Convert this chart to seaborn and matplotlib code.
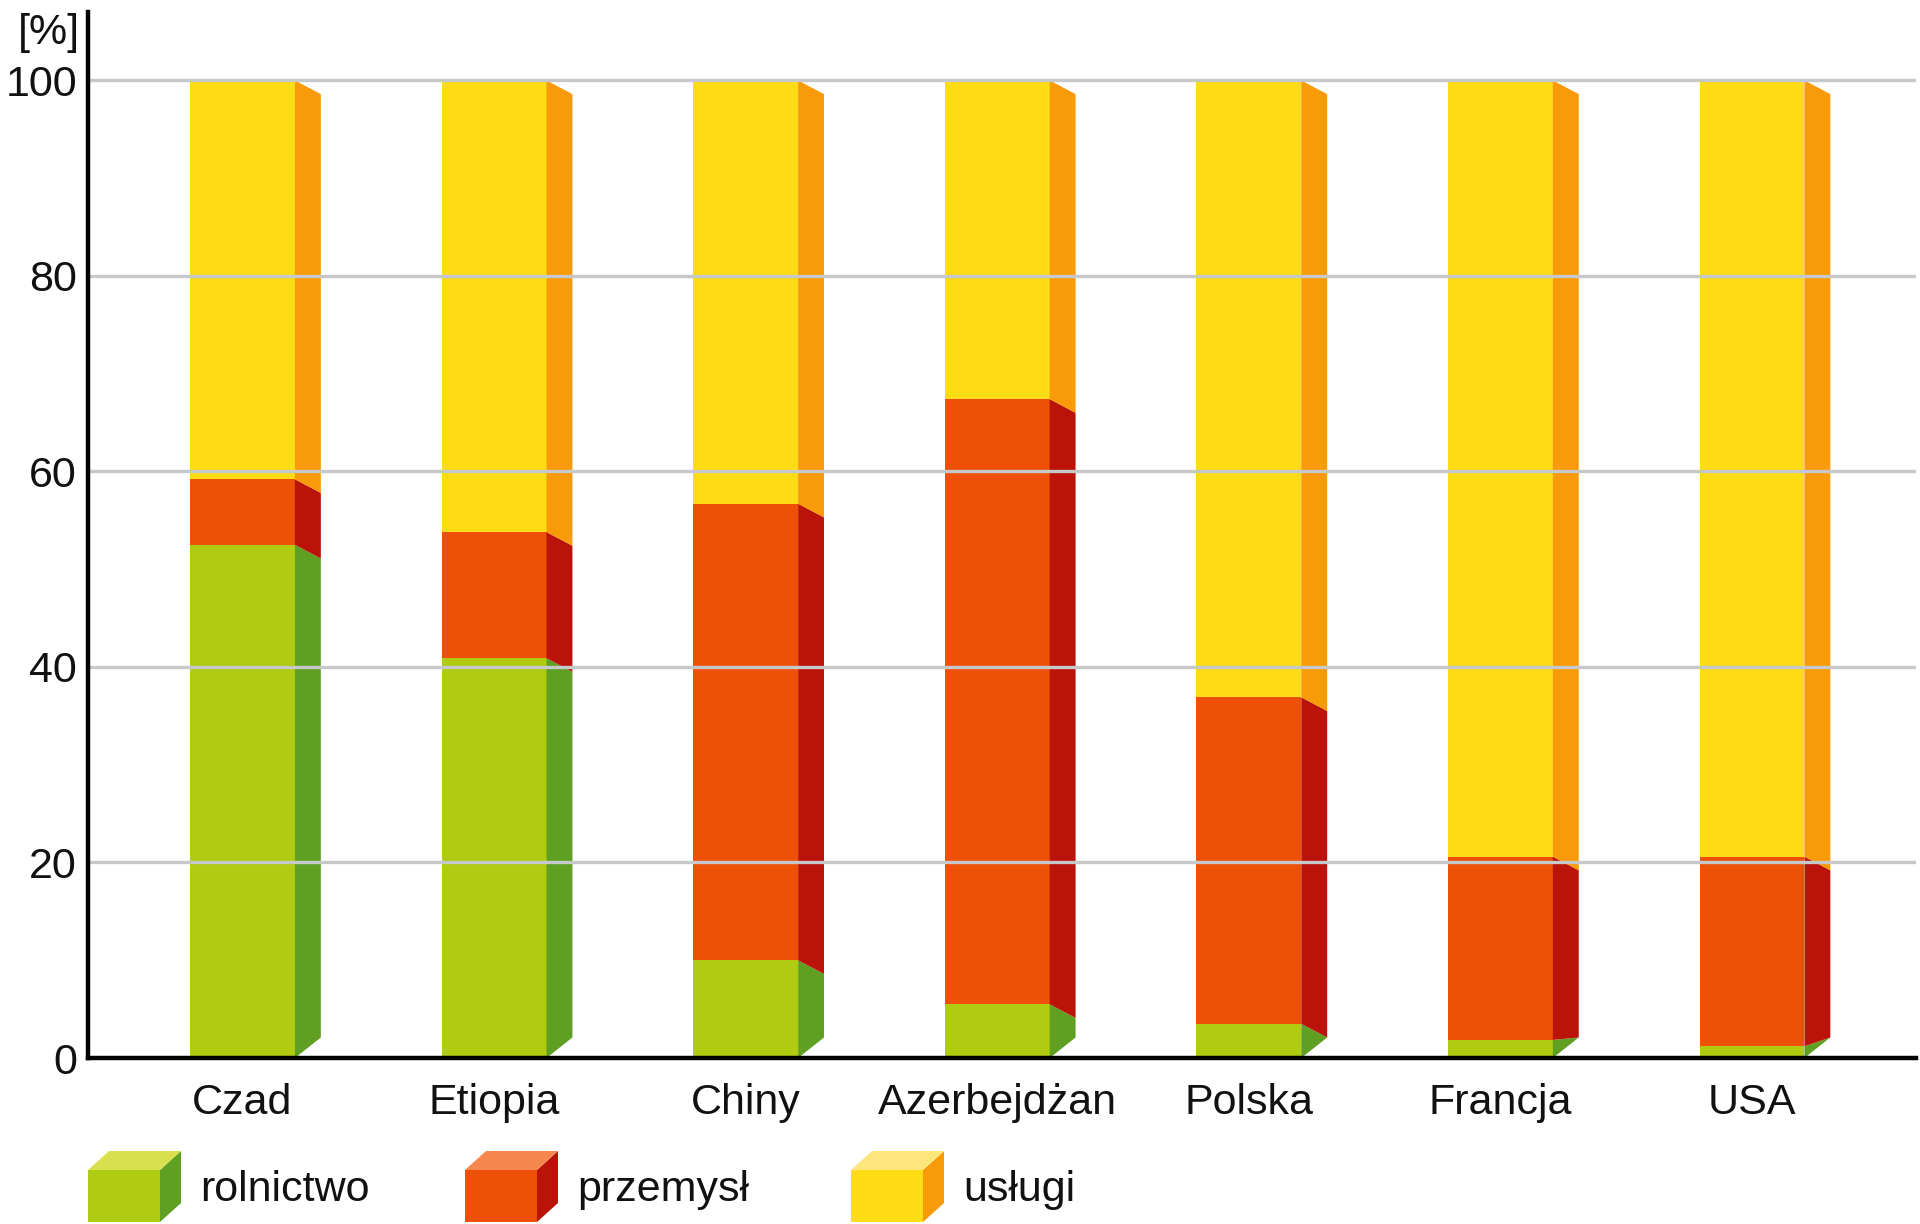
import matplotlib
matplotlib.use('Agg')
import matplotlib.pyplot as plt
from matplotlib.patches import Polygon, Rectangle
import pandas as pd
import seaborn as sns

countries = ['Czad', 'Etiopia', 'Chiny', 'Azerbejdżan', 'Polska', 'Francja', 'USA']
rolnictwo = [52.5, 40.9, 10.0, 5.5, 3.5, 1.85, 1.2]
przemysl = [6.7, 12.9, 46.7, 61.9, 33.4, 18.75, 19.4]
uslugi = [40.8, 46.2, 43.3, 32.6, 63.1, 79.4, 79.4]
sectors = ['rolnictwo', 'przemysł', 'usługi']
yticks = [0, 20, 40, 60, 80, 100]

front_col = ['#afcb12', '#ee5008', '#fddb15']
side_col = ['#5f9f22', '#bb1209', '#f99a08']
top_col = ['#d8e04e', '#f6884f', '#fde67b']

sns.set_style('white')
plt.rcParams['font.family'] = ['Liberation Sans Narrow', 'Liberation Sans', 'DejaVu Sans']

W, H = 1920, 1224
fig = plt.figure(figsize=(W / 100, H / 100), dpi=100)
ax = fig.add_axes([88 / W, 166 / H, (1916 - 88) / W, (1058 - 12) / H])

# long table with lower / upper edge of each stacked segment
rows = []
for i, c in enumerate(countries):
    lo = 0
    for s, vals in zip(sectors, [rolnictwo, przemysl, uslugi]):
        rows.append({'kraj': c, 'sektor': s, 'dol': lo, 'gora': lo + vals[i]})
        lo += vals[i]
df = pd.DataFrame(rows)

bar_w = 0.417
depth = 0.103   # side face width in category units
drop = 1.4      # slant of side top edge (data units)
rise = 2.1      # slant of side bottom edge at the base

# front faces: draw cumulative heights from top segment down
for k in [2, 1, 0]:
    sub = df[df['sektor'] == sectors[k]]
    sns.barplot(data=sub, x='kraj', y='gora', order=countries, color=front_col[k],
                saturation=1, width=bar_w, ax=ax, linewidth=0, zorder=1)

# side faces, positions taken from the drawn bars
xpos = {}
for p in ax.patches[:len(countries)]:
    xc = p.get_x() + p.get_width() / 2
    xpos[countries[int(round(xc))]] = p.get_x() + p.get_width()

for k in range(3):
    sub = df[df['sektor'] == sectors[k]]
    for _, r in sub.iterrows():
        x1 = xpos[r['kraj']]
        b, t = r['dol'], r['gora']
        b_r = rise if b == 0 else max(b - drop, rise)
        t_r = max(t - drop, rise)
        poly = Polygon([(x1, t), (x1 + depth, t_r), (x1 + depth, b_r), (x1, b)],
                       closed=True, facecolor=side_col[k], edgecolor='none', zorder=1)
        ax.add_patch(poly)

for y in yticks[1:]:
    ax.axhline(y, color='#c5c9c9', linewidth=2.4, zorder=3)

ax.set_xlim(-0.614, 6.652)
ax.set_ylim(0, 107)
ax.set_yticks(yticks)
ax.set_xlabel('')
ax.set_ylabel('')
ax.tick_params(axis='both', length=0, labelsize=31, colors='#111111')
ax.tick_params(axis='y', pad=8)
ax.tick_params(axis='x', pad=18)
for s in ['top', 'right']:
    ax.spines[s].set_visible(False)
for s in ['left', 'bottom']:
    ax.spines[s].set_color('black')
    ax.spines[s].set_linewidth(3.2)
    ax.spines[s].set_zorder(4)

fig.text(49 / W, 1 - 33 / H, '[%]', fontsize=31, ha='center', va='center', color='#111111')


# legend drawn as small cubes in pixel coordinates
def fx(x):
    return x / W


def fy(y):
    return 1 - y / H


leg_x = [88, 465, 851]
for k in range(3):
    x0 = leg_x[k]
    fw, sw = 72, 21
    ytop, yfront, ybot = 1151, 1170, 1222
    fig.patches.append(Rectangle((fx(x0), fy(ybot)), fw / W, (ybot - yfront) / H,
                                 transform=fig.transFigure, facecolor=front_col[k], edgecolor='none'))
    fig.patches.append(Polygon([(fx(x0 + fw), fy(yfront)), (fx(x0 + fw + sw), fy(ytop)),
                                (fx(x0 + fw + sw), fy(ybot - 19)), (fx(x0 + fw), fy(ybot))],
                               closed=True, transform=fig.transFigure, facecolor=side_col[k], edgecolor='none'))
    fig.patches.append(Polygon([(fx(x0), fy(yfront)), (fx(x0 + fw), fy(yfront)),
                                (fx(x0 + fw + sw), fy(ytop)), (fx(x0 + sw), fy(ytop))],
                               closed=True, transform=fig.transFigure, facecolor=top_col[k], edgecolor='none'))
    fig.text(fx(x0 + fw + sw + 19), fy(1190), sectors[k], fontsize=31, ha='left', va='center', color='#111111')

fig.savefig('out.png', dpi=100)
